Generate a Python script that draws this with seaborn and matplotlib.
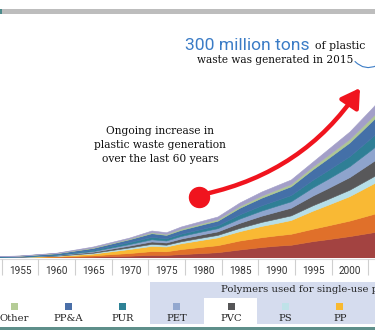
import matplotlib
matplotlib.use("Agg")
import matplotlib.pyplot as plt
import numpy as np
import pandas as pd
import seaborn as sns
from matplotlib.patches import Rectangle, FancyArrowPatch, ArrowStyle
from matplotlib.lines import Line2D

# ---------------- data (plastic waste generation by polymer, million tons) ----------------
years = [1950, 1955, 1960, 1965, 1970, 1973, 1975, 1977, 1980, 1982, 1985, 1988,
         1990, 1992, 1995, 1997, 2000, 2003, 2005]
ldpe = [.12, .25, .5, .9, 1.8, 2.6, 2.6, 3.4, 4.5, 5.3, 8.0, 10.5, 11.8, 12.7, 16.4, 18.3, 21.4, 25, 27.8]
hdpe = [.08, .18, .5, 1.3, 2.7, 3.8, 3.6, 5.0, 6.3, 7.0, 9.0, 9.8, 10.3, 11.0, 12.4, 13.7, 15.5, 18, 19.7]
pp = [.05, .12, .5, 1.7, 4.0, 5.2, 4.8, 5.8, 7.0, 7.8, 9.3, 11.3, 12.3, 13.8, 18.1, 20.6, 24.5, 30, 33.5]
ps = [.07, .15, .35, .8, 1.6, 2.0, 1.8, 2.0, 2.3, 2.5, 3.3, 4.0, 4.4, 4.6, 5.4, 5.8, 6.4, 7, 7.6]
pvc = [.12, .25, .5, 1.0, 1.8, 2.4, 2.2, 2.7, 3.2, 3.5, 5.0, 6.2, 7.0, 7.7, 9.7, 10.8, 12.6, 15, 16.6]
pet = [.05, .1, .3, .8, 1.6, 2.2, 2.0, 2.6, 3.0, 3.2, 4.3, 5.2, 5.8, 6.4, 8.2, 9.2, 10.9, 13, 14.5]
pur = [.12, .25, .55, 1.1, 1.9, 2.4, 2.2, 2.3, 2.6, 2.9, 4.2, 5.2, 5.7, 6.2, 7.6, 8.6, 10, 12, 13.3]
ppa = [.25, .45, 1.0, 1.9, 2.9, 3.7, 3.4, 3.8, 4.3, 4.6, 6.6, 7.6, 8.2, 8.8, 10.5, 11.8, 13.7, 16, 17.6]
other = [.05, .1, .25, .5, .7, 1.0, 1.0, 1.3, 1.4, 1.5, 1.8, 2.1, 2.2, 2.3, 2.8, 3.1, 3.5, 4, 4.4]
additives = [.09, .15, .35, 1.0, 1.0, 1.7, 1.7, 2.1, 2.4, 2.7, 3.5, 4.1, 4.3, 4.5, 4.9, 6.1, 7.5, 9, 10]

series_names = ["LDPE", "HDPE", "PP", "PS", "PVC", "PET", "PUR", "PP&A", "Other", "Additives"]
series_colors = ["#A34341", "#E0702A", "#F9B934", "#B6DEE8", "#58585A",
                 "#8EA4CD", "#2F7F96", "#4470A8", "#AFC794", "#A39FC8"]

tick_years = [1955, 1960, 1965, 1970, 1975, 1980, 1985, 1990, 1995, 2000, 2005]

legend_labels = ["Other", "PP&A", "PUR", "PET", "PVC", "PS", "PP", "HDPE", "LDPE"]
legend_colors = ["#B5CC96", "#4A6FA8", "#2E8296", "#93A8CF", "#555557", "#BFE2E8",
                 "#F8B930", "#E0702A", "#A34341"]

headline_big = "300 million tons"
headline_small1 = "of plastic"
headline_small2 = "waste was generated in 2015"
note_lines = ["Ongoing increase in", "plastic waste generation", "over the last 60 years"]
legend_header = "Polymers used for single-use plastics"

# ---------------- style ----------------
sns.set_theme(style="white")
plt.rcParams["font.family"] = ["DejaVu Serif"]

W, H = 375, 334
fig = plt.figure(figsize=(W / 100, H / 100), dpi=100)
fig.patch.set_facecolor("white")
BASE = 258
ax = fig.add_axes([0, (H - BASE) / H, 1, 240 / H])
ax.set_xlim(1952.27, 2003.41)
ax.set_ylim(0, 240)
ax.axis("off")

df = pd.DataFrame({"year": years, "LDPE": ldpe, "HDPE": hdpe, "PP": pp, "PS": ps,
                   "PVC": pvc, "PET": pet, "PUR": pur, "PP&A": ppa, "Other": other,
                   "Additives": additives})
polys = ax.stackplot(df["year"], [df[c] for c in series_names], colors=series_colors, lw=0.4)
for p, c in zip(polys, series_colors):
    p.set_edgecolor(c)

# x tick strip
ax.axhline(-0.6, color="#D9D9D9", lw=0.8, clip_on=False)
for y in tick_years:
    ax.vlines(y - 2.5, -1, -17, color="#CFCFCF", lw=0.8, clip_on=False)
    ax.text(y, -15.7, str(y), ha="center", va="baseline", fontsize=7.2,
            family="Roboto", color="#333333", clip_on=False)


def P(x, y):
    return (x / W, 1 - y / H)


# top bar
fig.patches.append(Rectangle(P(0, 14), 1, 5 / H, transform=fig.transFigure,
                             color="#BDBDBD", lw=0))
fig.patches.append(Rectangle(P(0, 14), 1.5 / W, 5 / H, transform=fig.transFigure,
                             color="#4B8B8B", lw=0))
# bottom teal rule
fig.patches.append(Rectangle(P(0, 329.5), 1, 2.6 / H, transform=fig.transFigure,
                             color="#5E8F8A", lw=0))
# legend panel
fig.patches.append(Rectangle(P(150, 324), (W - 150) / W, 42 / H, transform=fig.transFigure,
                             color="#D5DCEE", lw=0))
fig.patches.append(Rectangle(P(204, 324), 53 / W, 26 / H, transform=fig.transFigure,
                             color="white", lw=0))
fig.text(*P(221, 291.5), legend_header, ha="left", va="baseline", fontsize=7.3, color="#222222")

for i, (lab, col) in enumerate(zip(legend_labels, legend_colors)):
    cx = 14 + i * 54.3
    fig.patches.append(Rectangle(P(cx - 3.5, 309.5), 7 / W, 7 / H, transform=fig.transFigure,
                                 color=col, lw=0))
    fig.text(*P(cx, 321), lab, ha="center", va="baseline", fontsize=7.2, color="#222222")

# headline
fig.text(*P(185, 50), headline_big, ha="left", va="baseline", fontsize=12.6,
         family="Roboto", color="#3B7CC6")
fig.text(*P(315, 49), headline_small1, ha="left", va="baseline", fontsize=7.8, color="#111111")
fig.text(*P(275.5, 62.7), headline_small2, ha="center", va="baseline", fontsize=7.6,
         color="#111111")
lead = FancyArrowPatch(P(355, 61.5), P(377, 65.5), transform=fig.transFigure,
                       arrowstyle="-", connectionstyle="arc3,rad=0.35",
                       color="#3B7CC6", lw=0.8, shrinkA=0, shrinkB=0)
fig.patches.append(lead)

# note
for txt, yb in zip(note_lines, [134.3, 148.3, 162.3]):
    fig.text(*P(160, yb), txt, ha="center", va="baseline", fontsize=7.7, color="#111111")

# red arrow
red = "#F0141E"
arr = FancyArrowPatch(P(205, 194), P(360, 88), transform=fig.transFigure,
                      arrowstyle=ArrowStyle("-|>", head_length=0.55, head_width=0.33),
                      mutation_scale=20, connectionstyle="arc3,rad=0.2",
                      color=red, lw=3.2, shrinkA=0, shrinkB=0)
fig.patches.append(arr)
fig.add_artist(Line2D([199 / W], [1 - 196.7 / H], marker="o", markersize=14.4,
                      color=red, transform=fig.transFigure))

fig.savefig("out.png", dpi=100, facecolor="white")
